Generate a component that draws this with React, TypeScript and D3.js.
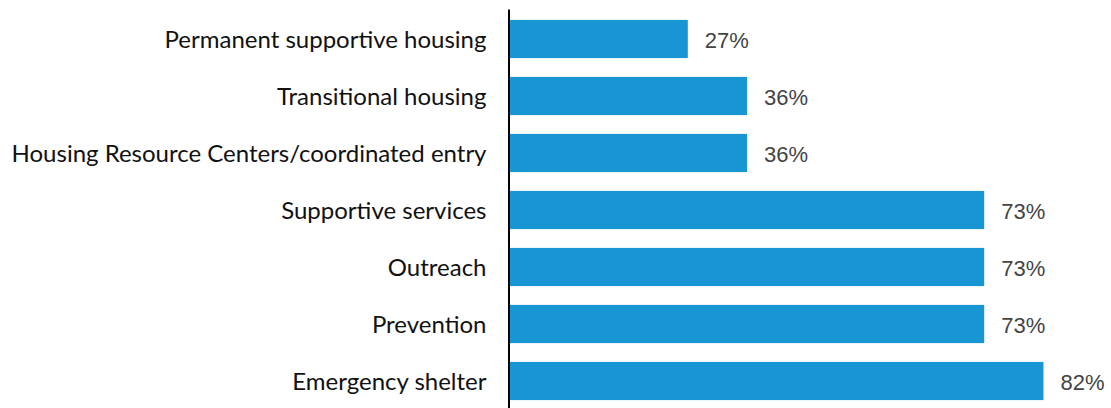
import React from "react";
import * as d3 from "d3";

const categories = [
  "Permanent supportive housing",
  "Transitional housing",
  "Housing Resource Centers/coordinated entry",
  "Supportive services",
  "Outreach",
  "Prevention",
  "Emergency shelter",
];
const values = [27.27, 36.36, 36.36, 72.73, 72.73, 72.73, 81.82];

const W = 1111;
const H = 408;

export default function App() {
  const x = d3.scaleLinear().domain([0, 100]).range([510, 1162]);
  const y = d3
    .scaleBand<string>()
    .domain(categories)
    .range([10.5, 409.5])
    .paddingInner(0.33)
    .paddingOuter(0.165);
  const bw = y.bandwidth();
  return (
    <svg
      width={W}
      height={H}
      style={{ position: "absolute", left: 0, top: 0, background: "#fff" }}
    >
      {categories.map((c, i) => {
        const yy = y(c)!;
        const cy = yy + bw / 2;
        return (
          <g key={c}>
            <rect x={x(0)} y={yy} width={x(values[i]) - x(0)} height={bw} fill="#1896d3" />
            <text
              x={486.5}
              y={cy + 8.8}
              textAnchor="end"
              fontFamily="Lato"
              fontSize={24}
              fill="#111"
            >
              {c}
            </text>
            <text
              x={x(values[i]) + 17}
              y={cy + 8.6}
              fontFamily="Liberation Sans, Arial"
              fontSize={22}
              fill="#444"
            >
              {Math.round(values[i])}%
            </text>
          </g>
        );
      })}
      <line x1={509} x2={509} y1={9.5} y2={H} stroke="#000" strokeWidth={2} />
    </svg>
  );
}
